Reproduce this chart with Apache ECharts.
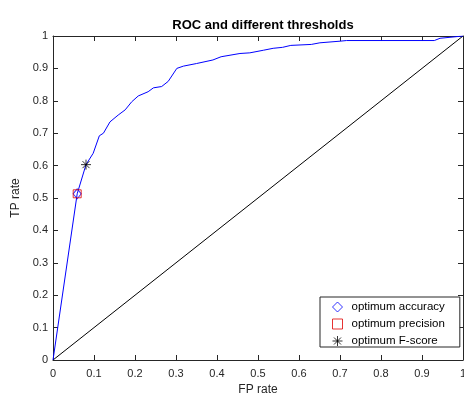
<!DOCTYPE html>
<html>
<head>
<meta charset="utf-8">
<script src="https://cdn.jsdelivr.net/npm/echarts@6/dist/echarts.min.js"></script>
<style>
html,body{margin:0;padding:0;background:#fff;}
#chart{width:464px;height:399px;}
</style>
</head>
<body>
<div id="chart"></div>
<script>
// ROC curve (FP rate, TP rate)
const fpRate = [0, 0.059, 0.0805, 0.098, 0.113, 0.123, 0.139, 0.159, 0.176, 0.192, 0.208, 0.232, 0.245, 0.265, 0.281, 0.302, 0.318, 0.35, 0.39, 0.41, 0.456, 0.48, 0.513, 0.537, 0.56, 0.58, 0.63, 0.651, 0.70, 0.716, 0.93, 0.944, 1];
const tpRate = [0, 0.513, 0.603, 0.638, 0.692, 0.700, 0.735, 0.756, 0.772, 0.797, 0.815, 0.828, 0.840, 0.844, 0.860, 0.900, 0.907, 0.915, 0.926, 0.936, 0.946, 0.948, 0.956, 0.962, 0.965, 0.971, 0.974, 0.979, 0.984, 0.986, 0.986, 0.993, 1];
const diagonalX = [0, 1];
const diagonalY = [0, 1];
const optAccuracy = [0.059, 0.513];
const optPrecision = [0.059, 0.513];
const optFscore = [0.0805, 0.603];
const legendNames = ['optimum accuracy', 'optimum precision', 'optimum F-score'];
const titleText = 'ROC and different thresholds';
const xName = 'FP rate';
const yName = 'TP rate';

const axisColor = '#262626';
const font = 'Liberation Sans, Arial, Helvetica, sans-serif';

function baseAxis(extra) {
  return Object.assign({
    type: 'value', min: 0, max: 1, interval: 0.1,
    axisLine: { show: true, onZero: false, lineStyle: { color: axisColor, width: 1 } },
    axisTick: { show: true, inside: true, length: 5, lineStyle: { color: axisColor } },
    splitLine: { show: false },
    axisLabel: { color: axisColor, fontSize: 11, fontFamily: font }
  }, extra);
}

const chart = echarts.init(document.getElementById('chart'), null, { renderer: 'canvas' });
const asterisk = 'path://M0,5L10,5M5,0L5,10M1.5,1.5L8.5,8.5M8.5,1.5L1.5,8.5';

chart.setOption({
  animation: false,
  backgroundColor: '#fff',
  title: {
    text: titleText, left: 258, top: 14, textAlign: 'center',
    textStyle: { fontSize: 13, fontWeight: 'bold', color: '#000', fontFamily: font }
  },
  grid: { left: 53, right: 1, top: 36, bottom: 39, containLabel: false, outerBoundsMode: 'none' },
  xAxis: [
    baseAxis({ position: 'bottom', name: xName, nameLocation: 'middle', nameGap: 24,
      nameTextStyle: { fontSize: 12, color: axisColor, fontFamily: font },
      axisLabel: { color: axisColor, fontSize: 11, fontFamily: font, margin: 8 } }),
    baseAxis({ position: 'top', axisLabel: { show: false } })
  ],
  yAxis: [
    baseAxis({ position: 'left', name: yName, nameLocation: 'middle', nameGap: 30,
      nameTextStyle: { fontSize: 12, color: axisColor, fontFamily: font },
      axisLabel: { color: axisColor, fontSize: 11, fontFamily: font, margin: 5 } }),
    baseAxis({ position: 'right', axisLabel: { show: false } })
  ],
  legend: {
    orient: 'vertical', left: 320, top: 297,
    data: legendNames,
    backgroundColor: '#fff',
    borderColor: axisColor, borderWidth: 1, borderRadius: 0,
    padding: [4, 15, 0, 12],
    itemWidth: 10, itemHeight: 10, itemGap: 5,
    itemStyle: { borderWidth: 1 },
    textStyle: { fontSize: 11.5, color: '#000', fontFamily: font, lineHeight: 12, padding: [0, 0, 0, 4] },
    selectedMode: false
  },
  series: [
    {
      type: 'line', name: 'ROC', data: fpRate.map((x, i) => [x, tpRate[i]]),
      showSymbol: false, symbol: 'none',
      lineStyle: { color: '#0000ff', width: 1 }, z: 3
    },
    {
      type: 'line', name: 'diag', data: diagonalX.map((x, i) => [x, diagonalY[i]]),
      showSymbol: false, symbol: 'none',
      lineStyle: { color: '#000', width: 1 }, z: 2
    },
    {
      type: 'scatter', name: legendNames[0], data: [optAccuracy],
      symbol: 'diamond', symbolSize: [8, 10],
      itemStyle: { color: 'rgba(0,0,0,0)', borderColor: '#0000ff', borderWidth: 1 }, z: 5
    },
    {
      type: 'scatter', name: legendNames[1], data: [optPrecision],
      symbol: 'rect', symbolSize: 8,
      itemStyle: { color: 'rgba(0,0,0,0)', borderColor: '#e00000', borderWidth: 1 }, z: 5
    },
    {
      type: 'scatter', name: legendNames[2], data: [optFscore],
      symbol: asterisk, symbolSize: 10,
      itemStyle: { color: 'rgba(0,0,0,0)', borderColor: '#000', borderWidth: 1 }, z: 5
    }
  ]
});
</script>
</body>
</html>
